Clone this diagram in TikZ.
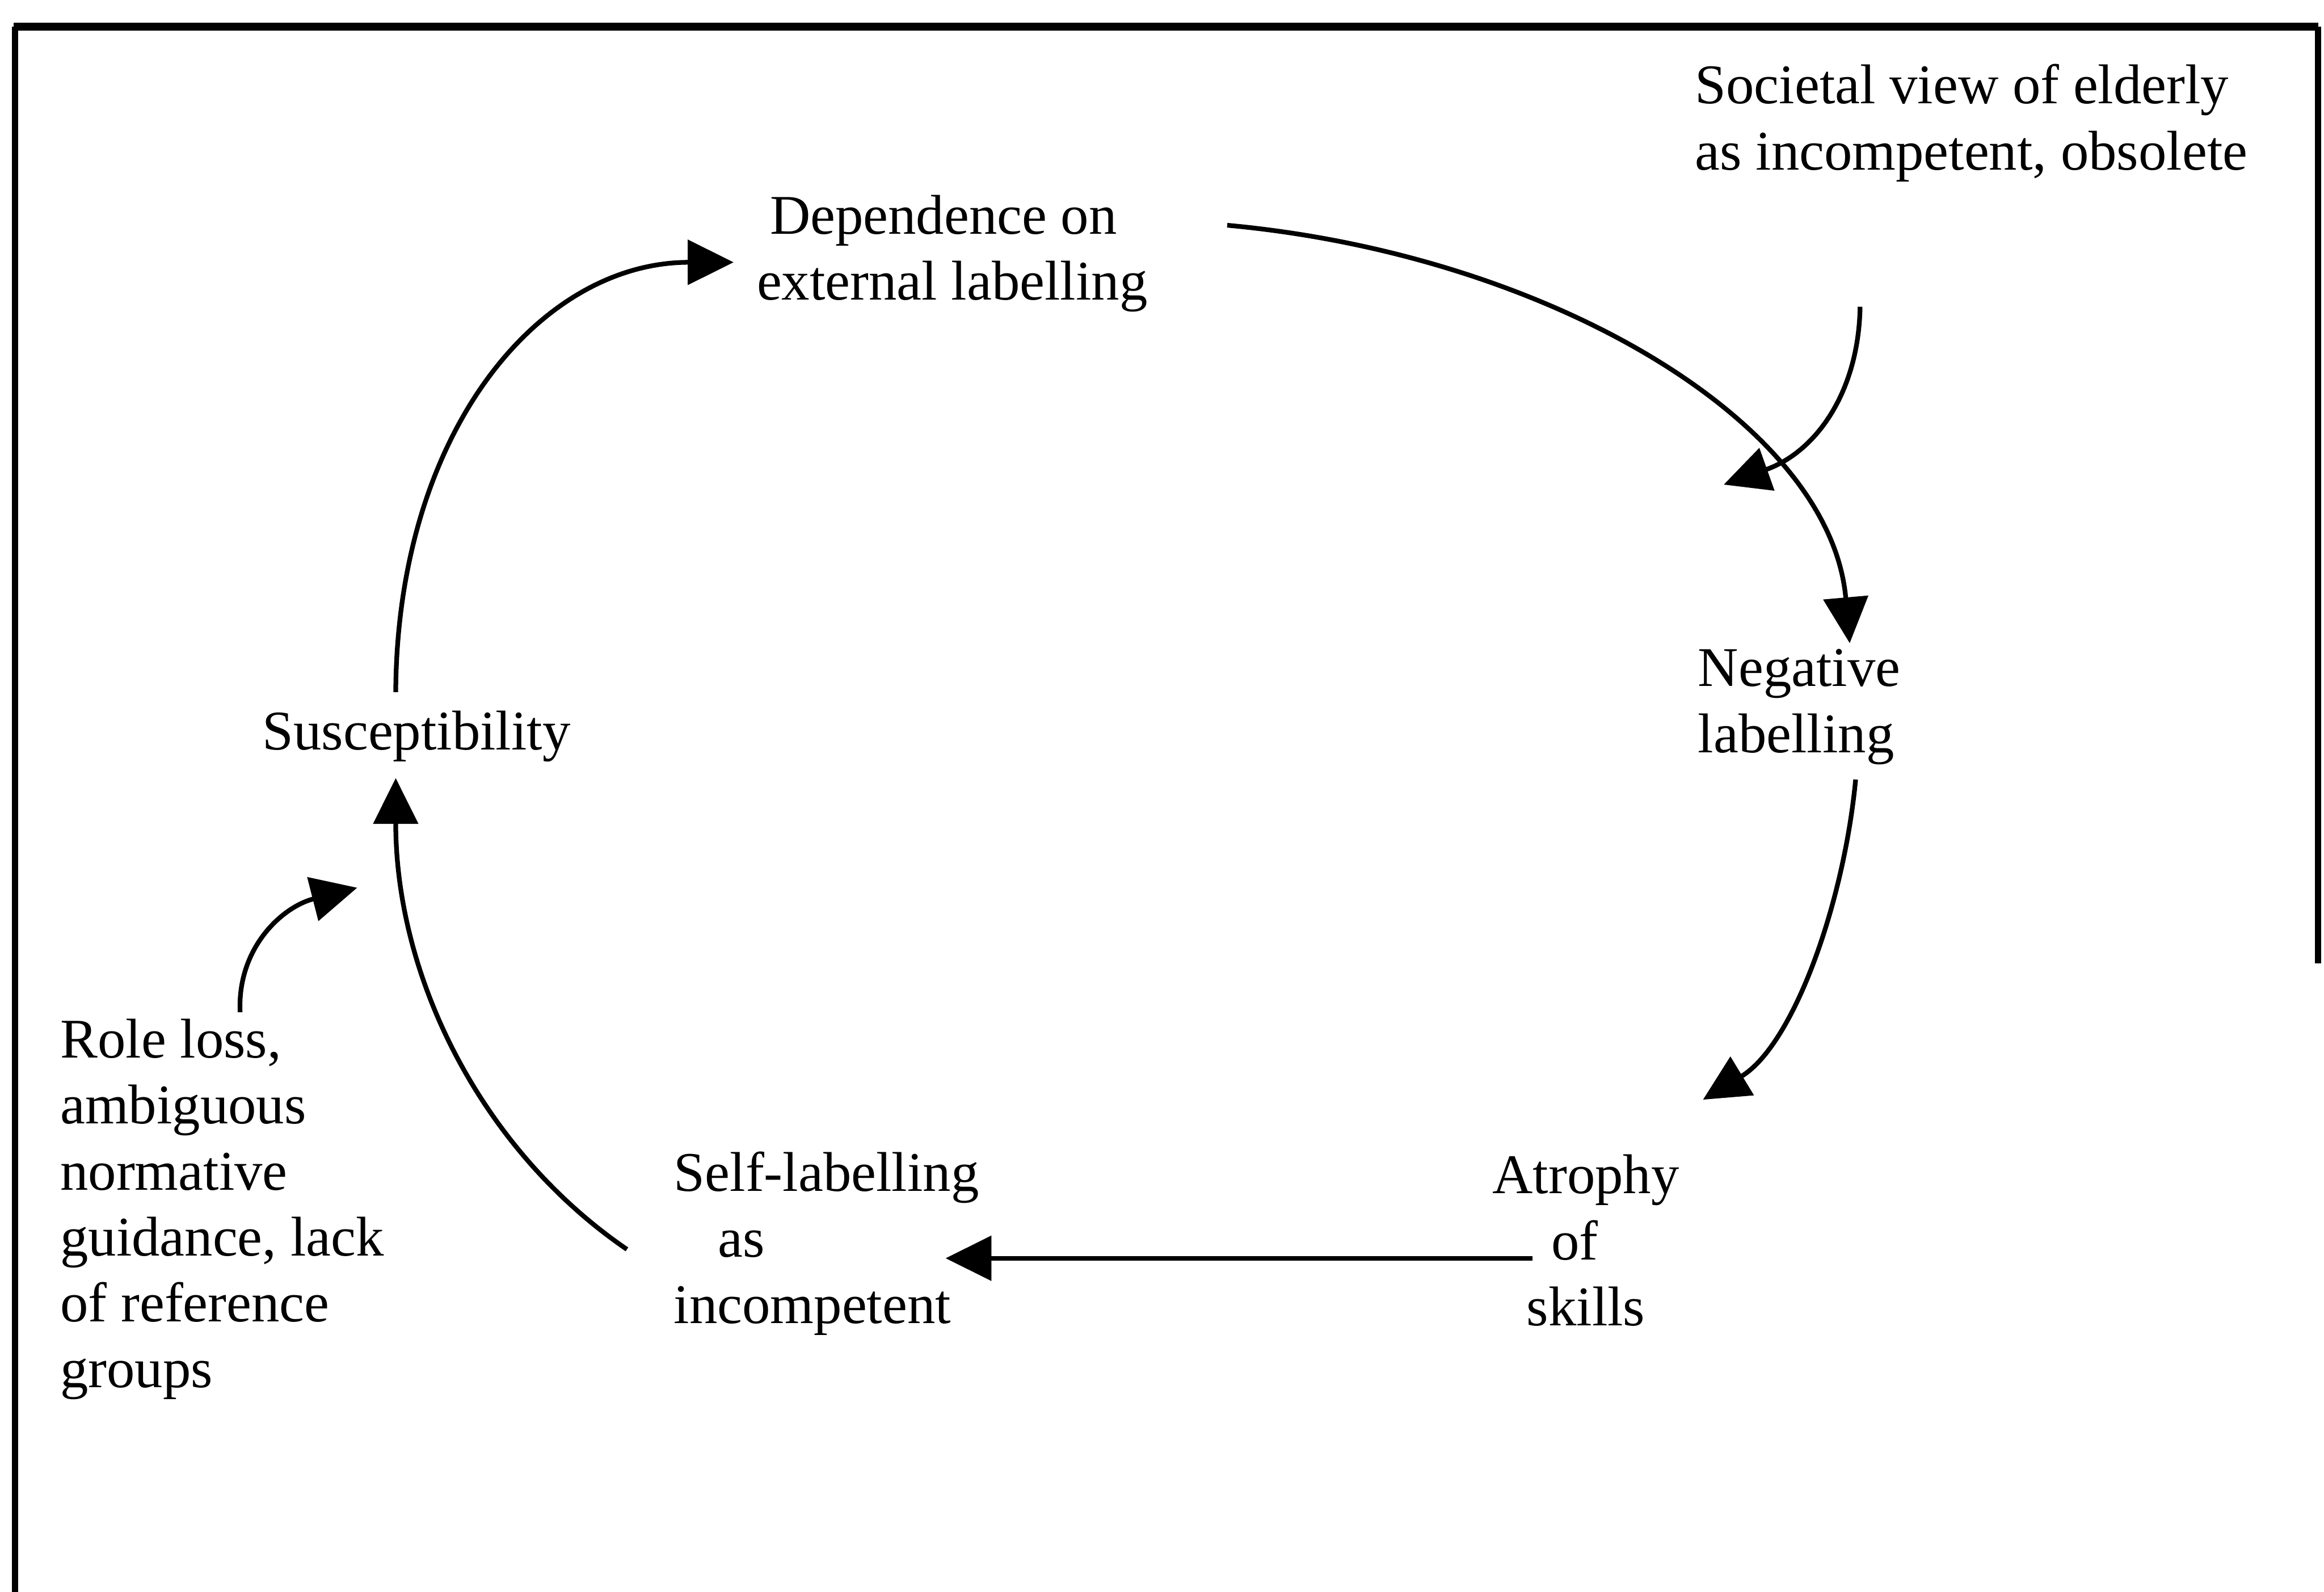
\documentclass[tikz,border=0pt]{standalone}
\usepackage{fontspec}
\setmainfont{Liberation Serif}
\usetikzlibrary{arrows.meta,calc}
\begin{document}
\begin{tikzpicture}[x=0.01cm,y=-0.01cm,
  lbl/.style={inner sep=0pt, font=\fontsize{10.75pt}{12.66pt}\selectfont},
  conn/.style={line width=0.9pt, -{Triangle[length=8.8pt,width=8.5pt]}},
  frame/.style={line width=1.2pt}]
\useasboundingbox (0,0) rectangle (1568,1074);
% frame
\draw[frame] (10,1074) -- (10,18);
\draw[line width=1.5pt] (9,18) -- (1564,18);
\draw[frame] (1564,18) -- (1564,650);
% nodes
\node[lbl, anchor=west, align=left] (soc) at (1143,83) {Societal view of elderly\\as incompetent, obsolete};
\node[lbl, anchor=west, align=left] (dep) at (510,171) {\hspace*{2.5pt}Dependence on\\external labelling};
\node[lbl, anchor=west, align=left] (neg) at (1145,477) {Negative\\labelling};
\node[lbl] (sus) at (281,497) {Susceptibility};
\node[lbl, align=center] (atr) at (1070,837) {Atrophy\\of\kern4.25pt\\skills};
\node[lbl, anchor=west, align=left] (self) at (454,839) {Self-labelling\\\hspace*{8.5pt}as\\incompetent};
\node[lbl, anchor=west, align=left] (role) at (40,816) {Role loss,\\ambiguous\\normative\\guidance, lack\\of reference\\groups};
\coordinate (socend) at (1163,327);
% connectors
\draw[conn] ($(dep.west)+(318,-19)$) .. controls (1045,172) and (1235,285) .. ($(neg.west)+(103,-43)$);
\draw[conn] ($(soc.west)+(112,124)$) .. controls (1254,265) and (1225,305) .. (socend);
\draw[conn] ($(neg.west)+(107,49)$) .. controls (1244,610) and (1210,705) .. ($(atr.center)+(79,-95)$);
\draw[conn] ($(atr.center)+(-36,12)$) -- ($(self.west)+(184,10)$);
\draw[conn] ($(self.west)+(-31,4)$) .. controls (325,776) and (267,660) .. ($(sus.center)+(-14,28)$);
\draw[conn] ($(sus.center)+(-14,-30)$) .. controls (268,290) and (365,177) .. ($(dep.west)+(-15,6)$);
\draw[conn] ($(role.west)+(122,-133)$) .. controls (160,640) and (190,612) .. ($(sus.center)+(-40,102)$);
\end{tikzpicture}
\end{document}
